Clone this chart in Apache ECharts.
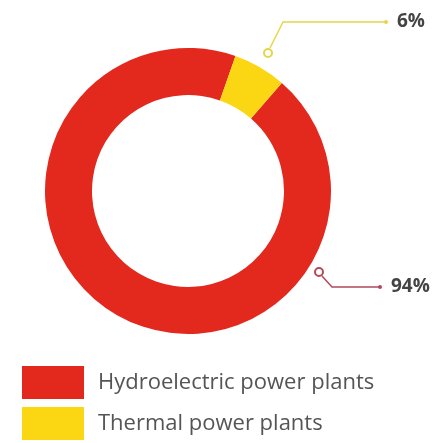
<!DOCTYPE html>
<html>
<head>
<meta charset="utf-8">
<script src="https://cdn.jsdelivr.net/npm/echarts@6/dist/echarts.min.js"></script>
<style>
  html, body { margin: 0; padding: 0; background: #fff; }
  #chart { width: 444px; height: 443px; }
</style>
</head>
<body>
<div id="chart"></div>
<script>
var categories = ["Hydroelectric power plants", "Thermal power plants"];
var shares = [94, 6];
var shareLabels = ["94%", "6%"];
var colors = ["#e3281e", "#fad613"];
var lineColors = ["#b34a5c", "#e6d54c"];

// leader geometry: circle marker, bend, end of line, text anchor
var leaders = [
  { dot: [319, 272], pts: [[322, 276], [332, 287], [380, 287]], text: [391, 287] },
  { dot: [268, 53], pts: [[270, 48], [283, 22], [386, 22]], text: [397, 22] }
];

var chart = echarts.init(document.getElementById("chart"));

var graphics = [];
leaders.forEach(function (l, i) {
  graphics.push({
    type: "circle",
    shape: { cx: l.dot[0], cy: l.dot[1], r: 4 },
    style: { fill: "#fff", stroke: lineColors[i], lineWidth: 2 },
    z: 10
  });
  var end = l.pts[l.pts.length - 1];
  graphics.push({
    type: "circle",
    shape: { cx: end[0], cy: end[1], r: 2 },
    style: { fill: lineColors[i] },
    z: 10
  });
});

var option = {
  animation: false,
  color: colors,
  legend: {
    orient: "vertical",
    left: 22,
    top: 366,
    padding: 0,
    itemWidth: 62,
    itemHeight: 33,
    itemGap: 8,
    icon: "rect",
    selectedMode: false,
    textStyle: { fontFamily: "Open Sans", fontSize: 22, color: "#555", padding: [0, 0, 0, 9] },
    data: categories
  },
  graphic: graphics,
  series: [
    {
      type: "pie",
      center: [188, 191],
      radius: [96, 143],
      startAngle: 49,
      clockwise: true,
      silent: true,
      data: categories.map(function (c, i) {
        return {
          name: c, value: shares[i], itemStyle: { color: colors[i] },
          labelLine: { lineStyle: { color: lineColors[i], width: 1.5 } }
        };
      }),
      label: {
        show: true,
        formatter: function (p) { return shareLabels[p.dataIndex]; },
        fontFamily: "Open Sans",
        fontWeight: "bold",
        fontSize: 19,
        color: "#444"
      },
      labelLine: {
        show: true,
        lineStyle: { width: 1.5 }
      },
      labelLayout: function (params) {
        var l = leaders[params.dataIndex];
        return {
          x: l.text[0],
          y: l.text[1],
          align: "left",
          verticalAlign: "middle",
          labelLinePoints: l.pts
        };
      }
    }
  ]
};

chart.setOption(option);
</script>
</body>
</html>
